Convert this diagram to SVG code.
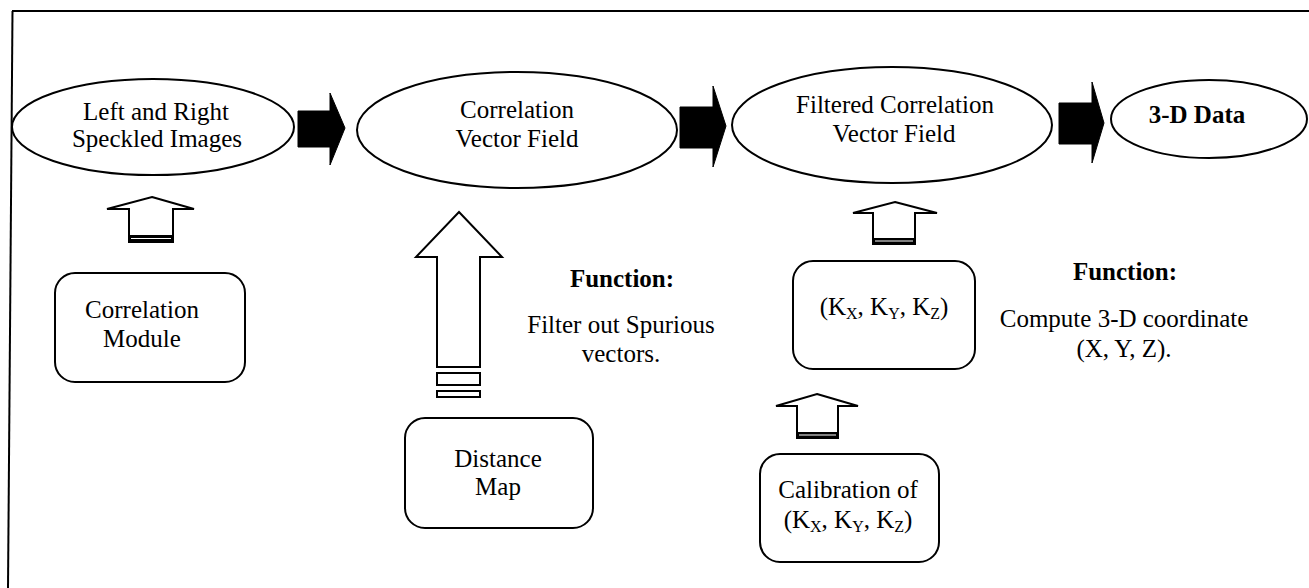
<svg xmlns="http://www.w3.org/2000/svg" width="1309" height="588" viewBox="0 0 1309 588">
<style>
  text { font-family: "Liberation Serif", "Times New Roman", serif; font-size: 25px; fill: #000; text-anchor: middle; }
  .b { font-weight: bold; }
  .sub { font-size: 16px; }
  .node { fill: #fff; stroke: #000; stroke-width: 2; }
  .blk { fill: #000; stroke: #000; stroke-width: 1; }
  .hol { fill: #fff; stroke: #000; stroke-width: 2; stroke-linejoin: miter; }
  .frame { fill: none; stroke: #000; stroke-width: 2; }
</style>
<rect x="0" y="0" width="1309" height="588" fill="#fff"/>
<g id="frame">
  <line class="frame" x1="12" y1="11" x2="1309" y2="11"/>
  <line class="frame" x1="12.5" y1="11" x2="8" y2="588"/>
</g>

<g id="connectors">
  <!-- black flow arrows -->
  <polygon class="blk" points="298,111 330,111 330,93 345,128 330,165 330,147 298,147"/>
  <polygon class="blk" points="680,107 713,107 713,86 726,126 713,167 713,148 680,148"/>
  <polygon class="blk" points="1059,103 1092,103 1092,82 1104,123 1092,163 1092,144 1059,144"/>
  <!-- hollow arrow: Correlation Module -> Left/Right images -->
  <g id="arrow-corr">
    <polygon class="hol" points="152,197 194,209 173,209 173,242 129,242 129,209 107,209"/>
    <rect x="129" y="235" width="44" height="7" fill="#000"/>
    <line x1="131" y1="238.5" x2="171" y2="238.5" stroke="#fff" stroke-width="1"/>
  </g>
  <!-- hollow arrow: Distance Map -> Correlation Vector Field -->
  <g id="arrow-dist">
    <polygon class="hol" points="459,212 502,257 480,257 480,367 437,367 437,257 416,257"/>
    <rect class="hol" x="437" y="373" width="43" height="12"/>
    <rect class="hol" x="437" y="391" width="43" height="6"/>
  </g>
  <!-- hollow arrow: K box -> Filtered field -->
  <g id="arrow-k">
    <polygon class="hol" points="895,202 937,213 915,213 915,244 873,244 873,213 853,213"/>
    <rect x="873" y="238" width="42" height="6" fill="#000"/>
    <line x1="875" y1="241" x2="913" y2="241" stroke="#fff" stroke-width="1"/>
  </g>
  <!-- hollow arrow: Calibration -> K box -->
  <g id="arrow-cal">
    <polygon class="hol" points="817,394 858,406 838,406 838,438 797,438 797,406 776,406"/>
    <rect x="797" y="432" width="41" height="6" fill="#000"/>
    <line x1="799" y1="435" x2="836" y2="435" stroke="#fff" stroke-width="1"/>
  </g>
</g>

<g id="node-images">
  <ellipse class="node" cx="153" cy="127" rx="141" ry="48"/>
  <text x="156" y="120">Left and Right</text>
  <text x="157" y="147">Speckled Images</text>
</g>

<g id="node-cvf">
  <ellipse class="node" cx="517" cy="130" rx="160" ry="58"/>
  <text x="517" y="118">Correlation</text>
  <text x="517" y="147">Vector Field</text>
</g>

<g id="node-fcvf">
  <ellipse class="node" cx="892" cy="125" rx="160" ry="58"/>
  <text x="895" y="113">Filtered Correlation</text>
  <text x="894" y="142">Vector Field</text>
</g>

<g id="node-3d">
  <ellipse class="node" cx="1209" cy="119" rx="98" ry="39"/>
  <text class="b" x="1197" y="123">3-D Data</text>
</g>

<g id="node-corrmod">
  <rect class="node" x="55" y="273" width="190" height="109" rx="20" ry="20"/>
  <text x="142" y="318">Correlation</text>
  <text x="142" y="347">Module</text>
</g>

<g id="node-distmap">
  <rect class="node" x="405" y="418" width="188" height="110" rx="20" ry="20"/>
  <text x="498" y="467">Distance</text>
  <text x="498" y="495">Map</text>
</g>

<g id="note-filter">
  <text class="b" x="622" y="287">Function:</text>
  <text x="621" y="333">Filter out Spurious</text>
  <text x="621" y="362">vectors.</text>
</g>

<g id="node-k">
  <rect class="node" x="793" y="261" width="182" height="108" rx="20" ry="20"/>
  <text x="884" y="315">(K<tspan class="sub" dy="4">X</tspan><tspan dy="-4">, K</tspan><tspan class="sub" dy="4">Y</tspan><tspan dy="-4">, K</tspan><tspan class="sub" dy="4">Z</tspan><tspan dy="-4">)</tspan></text>
</g>

<g id="node-calib">
  <rect class="node" x="760" y="454" width="179" height="108" rx="20" ry="20"/>
  <text x="848" y="498">Calibration of</text>
  <text x="848" y="528">(K<tspan class="sub" dy="4">X</tspan><tspan dy="-4">, K</tspan><tspan class="sub" dy="4">Y</tspan><tspan dy="-4">, K</tspan><tspan class="sub" dy="4">Z</tspan><tspan dy="-4">)</tspan></text>
</g>

<g id="note-compute">
  <text class="b" x="1125" y="280">Function:</text>
  <text x="1124" y="327">Compute 3-D coordinate</text>
  <text x="1124" y="357">(X, Y, Z).</text>
</g>
</svg>
